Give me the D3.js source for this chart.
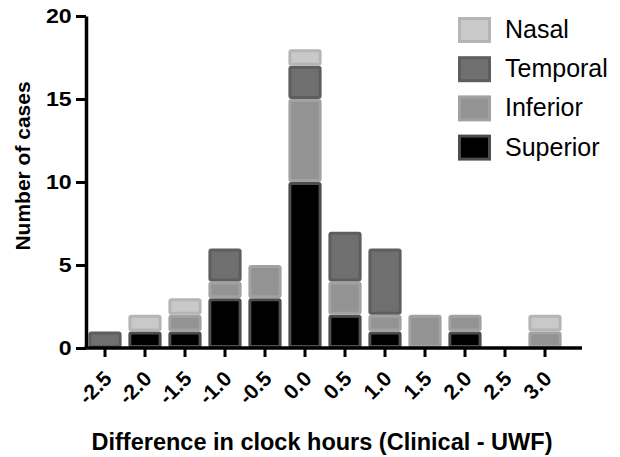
<!DOCTYPE html>
<html>
<head>
<meta charset="utf-8">
<script src="https://cdn.jsdelivr.net/npm/d3@7"></script>
<style>
  body { margin: 0; background: #fff; }
  svg text { font-family: "Liberation Sans", Arial, sans-serif; }
</style>
</head>
<body>
<svg id="chart" width="620" height="457"></svg>
<script>
const categories = ['-2.5', '-2.0', '-1.5', '-1.0', '-0.5', '0.0', '0.5', '1.0', '1.5', '2.0', '2.5', '3.0'];
const superior = [0, 1, 1, 3, 3, 10, 2, 1, 0, 1, 0, 0];
const inferior = [0, 0, 1, 1, 2, 5, 2, 1, 2, 1, 0, 1];
const temporal = [1, 0, 0, 2, 0, 2, 3, 4, 0, 0, 0, 0];
const nasal = [0, 1, 1, 0, 0, 1, 0, 0, 0, 0, 0, 1];
const yTicks = [0, 5, 10, 15, 20];

const seriesNames = ['Superior', 'Inferior', 'Temporal', 'Nasal'];
const fills = {Superior: '#000000', Inferior: '#939393', Temporal: '#6f6f6f', Nasal: '#c9c9c9'};
const strokes = {Superior: '#4d4d4d', Inferior: '#a2a2a2', Temporal: '#5e5e5e', Nasal: '#b5b5b5'};

const rows = categories.map((c, i) => ({
	cat: c, Superior: superior[i], Inferior: inferior[i], Temporal: temporal[i], Nasal: nasal[i]
}));

const $svg = d3.select('#chart');

// scales
const scaleX = d3.scaleBand()
	.domain(categories)
	.range([85, 565])
	.paddingInner(0.17)
	.paddingOuter(0.085);

const scaleY = d3.scaleLinear()
	.domain([0, 20])
	.range([348, 16]);

const stacked = d3.stack().keys(seriesNames)(rows);

// bars
const $layers = $svg.append('g')
	.selectAll('g')
	.data(stacked)
	.enter()
	.append('g')
	.attr('fill', d => fills[d.key])
	.attr('stroke', d => strokes[d.key]);

$layers.selectAll('rect')
	.data(d => d.filter(p => p[1] > p[0]))
	.enter()
	.append('rect')
	.attr('x', d => scaleX(d.data.cat) + 1.5)
	.attr('y', d => scaleY(d[1]) + 1.5)
	.attr('width', scaleX.bandwidth() - 3)
	.attr('height', d => scaleY(d[0]) - scaleY(d[1]) - 3)
	.attr('rx', 1.5)
	.attr('stroke-width', 3);

// y axis
const $yAxis = $svg.append('g')
	.attr('transform', 'translate(86,0)')
	.call(d3.axisLeft(scaleY).tickValues(yTicks).tickSize(10).tickPadding(3).tickSizeOuter(0));
$yAxis.select('.domain').attr('stroke-width', 3.5);
$yAxis.selectAll('.tick line').attr('stroke-width', 3);
$yAxis.selectAll('.tick text')
	.style('font-size', '21px')
	.style('font-weight', 'bold')
	.attr('fill', '#000')
	.attr('transform', 'scale(1.1,1)');

// x axis
const $xAxis = $svg.append('g')
	.attr('transform', 'translate(0,348)')
	.call(d3.axisBottom(scaleX).tickSize(9).tickSizeOuter(0));
$xAxis.select('.domain').attr('d', 'M84.5,0H582').attr('stroke-width', 3.5);
$xAxis.selectAll('.tick line').attr('stroke-width', 3);
$xAxis.selectAll('.tick text')
	.style('font-size', '21px')
	.style('font-weight', 'bold')
	.attr('fill', '#000')
	.attr('text-anchor', 'end')
	.attr('dy', null)
	.attr('y', 0)
	.attr('transform', 'translate(8,32) rotate(-45)');

// axis titles
$svg.append('text')
	.attr('transform', 'translate(30,166) rotate(-90)')
	.attr('text-anchor', 'middle')
	.style('font-size', '21px')
	.style('font-weight', 'bold')
	.text('Number of cases');

$svg.append('text')
	.attr('x', 322)
	.attr('y', 450)
	.attr('text-anchor', 'middle')
	.style('font-size', '23.5px')
	.style('font-weight', 'bold')
	.text('Difference in clock hours (Clinical - UWF)');

// legend, top to bottom
const legendOrder = ['Nasal', 'Temporal', 'Inferior', 'Superior'];
const $legend = $svg.append('g')
	.selectAll('g')
	.data(legendOrder)
	.enter()
	.append('g')
	.attr('transform', (d, i) => 'translate(458,' + (17 + i * 39.2) + ')');

$legend.append('rect')
	.attr('x', 1.5)
	.attr('y', 1.5)
	.attr('width', 30)
	.attr('height', 23)
	.attr('fill', d => fills[d])
	.attr('stroke', d => strokes[d])
	.attr('stroke-width', 3);

$legend.append('text')
	.attr('x', 47)
	.attr('y', 21)
	.style('font-size', '25px')
	.attr('fill', '#000')
	.text(d => d);
</script>
</body>
</html>
